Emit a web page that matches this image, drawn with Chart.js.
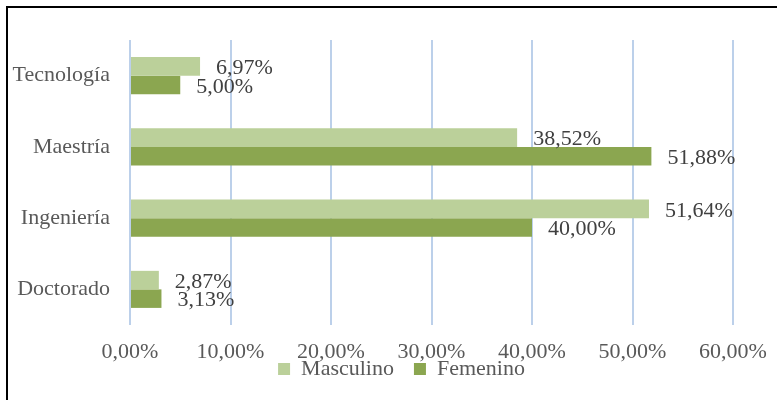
<!DOCTYPE html>
<html>
<head>
<meta charset="utf-8">
<script src="https://cdn.jsdelivr.net/npm/chart.js@4"></script>
<style>
  html, body { margin: 0; padding: 0; background: #fff; }
  .wrap { position: relative; width: 777px; height: 400px; overflow: hidden; }
  .frame { position: absolute; left: 6px; top: 6px; width: 800px; height: 420px;
           border-top: 2px solid #000; border-left: 2px solid #000; pointer-events: none; }
</style>
</head>
<body>
<div class="wrap">
  <canvas id="mainChart"></canvas>
  <div class="frame"></div>
</div>
<script>
/* ---- DATA ---- */
const categories = ['Tecnología', 'Maestría', 'Ingeniería', 'Doctorado'];
const masculino  = [6.97, 38.52, 51.64, 2.87];
const femenino   = [5.00, 51.88, 40.00, 3.13];
const seriesNames = ['Masculino', 'Femenino'];
const xMax = 60;
const xStep = 10;

/* ---- HELPERS ---- */
function pct(v) {
  return v.toFixed(2).replace('.', ',') + '%';
}

const SERIF = '"Liberation Serif", serif';
const TXT = '#595959';

/* ---- VALUE LABELS ---- */
const valueLabels = {
  id: 'valueLabels',
  afterDatasetsDraw(chart) {
    const ctx = chart.ctx;
    ctx.save();
    ctx.font = '22px ' + SERIF;
    ctx.fillStyle = '#404040';
    ctx.textAlign = 'left';
    ctx.textBaseline = 'middle';
    chart.data.datasets.forEach((ds, i) => {
      chart.getDatasetMeta(i).data.forEach((bar, j) => {
        ctx.fillText(pct(ds.data[j]), bar.x + 16, bar.y + 2);
      });
    });
    ctx.restore();
  }
};

/* legend sits just under the tick labels, a bit right of centre */
const legendPlace = {
  id: 'legendPlace',
  afterLayout(chart) {
    const lg = chart.legend;
    lg.top = chart.chartArea.bottom + 13;
    lg.bottom = lg.top + 50;
    lg.left += 35;
    lg.right += 35;
  }
};

/* ---- CHART ---- */
new Chart(document.getElementById('mainChart'), {
  type: 'bar',
  data: {
    labels: categories,
    datasets: [
      { label: seriesNames[0], data: masculino, backgroundColor: '#BBD09A' },
      { label: seriesNames[1], data: femenino,  backgroundColor: '#8BA650' }
    ]
  },
  options: {
    indexAxis: 'y',
    responsive: true,
    maintainAspectRatio: false,
    animation: false,
    datasets: { bar: { barPercentage: 1, categoryPercentage: 0.52 } },
    layout: { padding: { top: 40, right: 44, bottom: 0, left: 0 } },
    plugins: {
      tooltip: { enabled: false },
      legend: {
        position: 'bottom',
        maxHeight: 1,
        labels: {
          color: TXT,
          boxWidth: 12,
          boxHeight: 12,
          padding: 20,
          font: { family: SERIF, size: 22 }
        }
      }
    },
    scales: {
      x: {
        min: 0,
        max: xMax,
        border: { display: false },
        grid: { color: '#BCD0EA', lineWidth: 2, drawTicks: false },
        ticks: {
          stepSize: xStep,
          padding: 14,
          color: TXT,
          font: { family: SERIF, size: 22 },
          callback: v => pct(v)
        },
        afterFit: s => { s.height = 74; s.paddingRight = 30; s.paddingLeft = 0; }
      },
      y: {
        border: { display: false },
        grid: { display: false, drawTicks: false },
        ticks: {
          padding: 20,
          color: TXT,
          font: { family: SERIF, size: 22 }
        },
        afterFit: s => { s.width = 130; }
      }
    }
  },
  plugins: [valueLabels, legendPlace]
});
</script>
</body>
</html>
